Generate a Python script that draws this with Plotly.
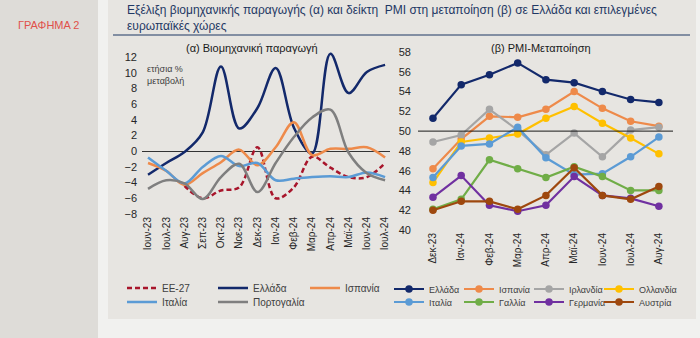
import plotly.graph_objects as go

W, H = 700, 338
FONT = "Liberation Sans, Arial, sans-serif"

# (α) Industrial production, annual % change
ip_months = ["Ιουν-23", "Ιουλ-23", "Αυγ-23", "Σεπ-23", "Οκτ-23", "Νοε-23", "Δεκ-23",
             "Ιαν-24", "Φεβ-24", "Μαρ-24", "Απρ-24", "Μαϊ-24", "Ιουν-24", "Ιουλ-24"]
ip_eu27 = [None, None, -4.4, -6.0, -5.0, -4.6, 0.5, -6.0, -4.6, -0.7, -2.1, -3.3, -3.3, -1.5]
ip_greece = [-3.0, -1.5, -0.1, 2.4, 10.8, 2.9, 5.5, 10.6, 3.0, -0.3, 12.4, 7.4, 10.1, 11.0]
ip_spain = [-1.5, -2.5, -4.3, -2.8, -1.4, 0.2, -1.8, 0.5, 3.7, -0.5, 0.3, 0.3, 0.5, -0.8]
ip_italy = [-0.8, -2.5, -4.1, -2.0, -0.6, -1.9, -1.5, -3.7, -3.5, -3.3, -3.2, -3.3, -2.7, -3.3]
ip_portugal = [-4.8, -3.7, -4.1, -6.1, -3.3, -1.6, -5.2, -1.5, 1.8, 4.3, 5.3, -0.2, -2.8, -3.7]
ip_ticks = [-8, -6, -4, -2, 0, 2, 4, 6, 8, 10, 12]

# (β) Manufacturing PMI
pmi_months = ["Δεκ-23", "Ιαν-24", "Φεβ-24", "Μαρ-24", "Απρ-24", "Μαϊ-24", "Ιουν-24", "Ιουλ-24", "Αυγ-24"]
pmi_greece = [51.3, 54.7, 55.7, 56.9, 55.2, 54.9, 54.0, 53.2, 52.9]
pmi_spain = [46.2, 49.2, 51.5, 51.4, 52.2, 54.0, 52.3, 51.0, 50.5]
pmi_ireland = [48.9, 49.6, 52.2, 50.1, 47.6, 49.8, 47.4, 50.1, 50.4]
pmi_netherlands = [44.8, 48.9, 49.3, 49.7, 51.3, 52.5, 50.8, 49.3, 47.7]
pmi_italy = [45.3, 48.5, 48.7, 50.4, 47.3, 45.6, 45.7, 47.4, 49.4]
pmi_france = [42.1, 43.1, 47.1, 46.2, 45.3, 46.4, 45.4, 44.0, 44.0]
pmi_germany = [43.3, 45.5, 42.5, 41.9, 42.5, 45.4, 43.5, 43.2, 42.4]
pmi_austria = [42.0, 42.9, 42.9, 42.1, 43.5, 46.3, 43.5, 43.1, 44.4]
pmi_ticks = [40, 42, 44, 46, 48, 50, 52, 54, 56, 58]


def px(x):
    return x / W


def py(y):
    return 1 - y / H


fig = go.Figure()

# ---- left panel: smoothed lines ----
ip_series = [
    ("ΕΕ-27", ip_eu27, "#A8152B", "5px,3px", "legend"),
    ("Ελλάδα", ip_greece, "#13296B", "solid", "legend2"),
    ("Ισπανία", ip_spain, "#EE8A4A", "solid", "legend3"),
    ("Ιταλία", ip_italy, "#5B9BD5", "solid", "legend4"),
    ("Πορτογαλία", ip_portugal, "#7F7F7F", "solid", "legend5"),
]
for name, vals, col, dash, lg in ip_series:
    fig.add_trace(go.Scatter(
        x=ip_months, y=vals, name=name, mode="lines",
        line=dict(color=col, width=2.5, dash=dash, shape="spline", smoothing=1),
        connectgaps=False, xaxis="x", yaxis="y", legend=lg))

# ---- right panel: lines with markers ----
pmi_series = [
    ("Ελλάδα", pmi_greece, "#13296B", "legend6"),
    ("Ισπανία", pmi_spain, "#EE8A4A", "legend7"),
    ("Ιρλανδία", pmi_ireland, "#A5A5A5", "legend8"),
    ("Ολλανδία", pmi_netherlands, "#FFC000", "legend9"),
    ("Ιταλία", pmi_italy, "#5B9BD5", "legend10"),
    ("Γαλλία", pmi_france, "#70AD47", "legend11"),
    ("Γερμανία", pmi_germany, "#7030A0", "legend12"),
    ("Αυστρία", pmi_austria, "#9E480E", "legend13"),
]
for name, vals, col, lg in pmi_series:
    fig.add_trace(go.Scatter(
        x=pmi_months, y=vals, name=name, mode="lines+markers",
        line=dict(color=col, width=2.2),
        marker=dict(color=col, size=7.5),
        xaxis="x2", yaxis="y2", legend=lg))

# ---- legend boxes, one per entry ----
legend_pos = {
    "legend": (122, 288, 10), "legend2": (213, 288, 10), "legend3": (305, 288, 10),
    "legend4": (122, 302, 10), "legend5": (213, 302, 10),
    "legend6": (389, 289, 9), "legend7": (459, 289, 9), "legend8": (529, 289, 9),
    "legend9": (599, 289, 9),
    "legend10": (389, 302, 9), "legend11": (459, 302, 9), "legend12": (529, 302, 9),
    "legend13": (599, 302, 9),
}
legends = {}
for key, (lx, ly, fs) in legend_pos.items():
    legends[key] = dict(
        x=px(lx), y=py(ly), xanchor="left", yanchor="middle",
        orientation="v", bgcolor="rgba(0,0,0,0)", borderwidth=0,
        itemwidth=30, font=dict(family=FONT, size=fs, color="#404040"))

tick_font = dict(family=FONT, size=11, color="#262626")

shapes = [
    # left side band
    dict(type="rect", xref="paper", yref="paper", x0=0, x1=px(98), y0=0, y1=1,
         fillcolor="#DEDCD8", line=dict(width=0), layer="below"),
    # main panel
    dict(type="rect", xref="paper", yref="paper", x0=px(108), x1=px(696), y0=py(319), y1=1,
         fillcolor="#E7E5E1", line=dict(width=0), layer="below"),
    # title underline
    dict(type="line", xref="paper", yref="paper", x0=px(113), x1=px(690), y0=py(35), y1=py(35),
         line=dict(color="#1F3864", width=1.2)),
    # 50-level reference line for PMI
    dict(type="line", xref="x2 domain", yref="y2", x0=0, x1=1, y0=50, y1=50,
         line=dict(color="#1A1A1A", width=1)),
]

annotations = [
    dict(text="ΓΡΑΦΗΜΑ 2", x=px(48), y=py(25), xref="paper", yref="paper",
         xanchor="center", yanchor="middle",
         showarrow=False, font=dict(family=FONT, size=11, color="#E0504A")),
    dict(text="Εξέλιξη βιομηχανικής παραγωγής (α) και δείκτη  PMI στη μεταποίηση (β) σε Ελλάδα και επιλεγμένες<br>ευρωπαϊκές χώρες",
         x=px(125), y=py(18), xref="paper", yref="paper", xanchor="left", yanchor="middle",
         align="left", showarrow=False, font=dict(family=FONT, size=12, color="#1F3864")),
    dict(text="(α) Βιομηχανική παραγωγή", x=px(252), y=py(48), xref="paper", yref="paper",
         xanchor="center", yanchor="middle",
         showarrow=False, font=dict(family=FONT, size=11, color="#1A1A1A")),
    dict(text="(β) PMI-Μεταποίηση", x=px(541), y=py(48), xref="paper", yref="paper",
         xanchor="center", yanchor="middle",
         showarrow=False, font=dict(family=FONT, size=11, color="#1A1A1A")),
    dict(text="ετήσια %<br>μεταβολή", x=px(145), y=py(75), xref="paper", yref="paper",
         xanchor="left", yanchor="middle", align="left", showarrow=False,
         font=dict(family=FONT, size=9, color="#404040")),
]

# y-scale of the left panel: 12 sits at 57 px, -8 at 214 px; a little headroom above 12
ip_top = 12.8
ip_px_per_unit = (214 - 57) / 20.0
ip_top_px = 57 - (ip_top - 12) * ip_px_per_unit

fig.update_layout(
    width=W, height=H, template="none",
    margin=dict(l=0, r=0, t=0, b=0),
    paper_bgcolor="#F1F1EF", plot_bgcolor="rgba(0,0,0,0)",
    font=dict(family=FONT, color="#262626"),
    shapes=shapes, annotations=annotations,
    xaxis=dict(domain=[px(142), px(390)], anchor="y", type="category",
               range=[-0.33, 13.27], showgrid=False, showline=False, zeroline=False,
               ticks="", tickangle=-90, tickfont=dict(family=FONT, size=10, color="#262626"),
               ticklabelstandoff=0),
    yaxis=dict(domain=[py(214), py(ip_top_px)], anchor="x", range=[-8, ip_top],
               tickvals=ip_ticks, showgrid=False, showline=False,
               zeroline=True, zerolinecolor="#333333", zerolinewidth=1,
               ticks="", tickfont=tick_font, ticklabelstandoff=4),
    xaxis2=dict(domain=[px(418), px(673)], anchor="y2", type="category",
                range=[-0.53, 8.5], showgrid=False, showline=False, zeroline=False,
                ticks="", tickangle=-90, tickfont=dict(family=FONT, size=10, color="#262626"),
                ticklabelstandoff=0),
    yaxis2=dict(domain=[py(230), py(52)], anchor="x2", range=[40, 58],
                tickvals=pmi_ticks, showgrid=False, showline=False, zeroline=False,
                ticks="", tickfont=tick_font, ticklabelstandoff=6),
    showlegend=True,
    **legends,
)

fig.write_html("out.html")
